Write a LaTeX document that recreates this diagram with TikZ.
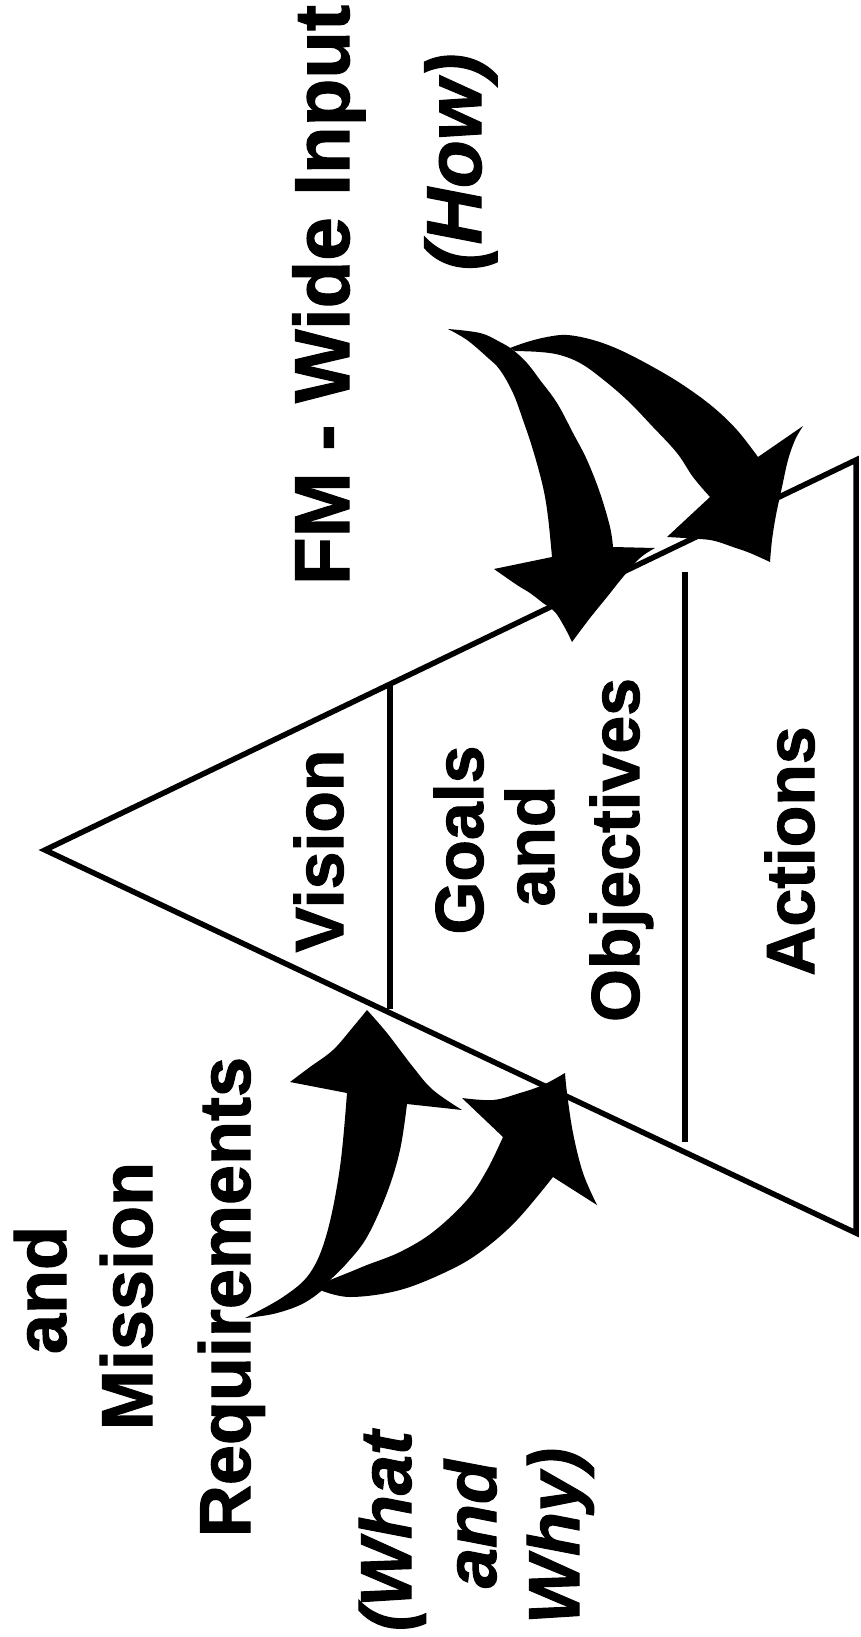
\documentclass[tikz,border=0pt]{standalone}
\usepackage{fontspec}
\setmainfont{Liberation Sans}[BoldFeatures={FakeBold=1.5}, BoldItalicFeatures={FakeBold=1.5}]
\begin{document}
\begin{tikzpicture}[x=1pt,y=-1pt,
  edgeline/.style={line width=5.5pt, line join=miter},
  divider/.style={line width=5.5pt},
  txt/.style={rotate=90, anchor=base, inner sep=0pt,
    font=\fontsize{72}{80}\selectfont\bfseries},
  itxt/.style={txt, font=\fontsize{72}{80}\selectfont\bfseries\itshape},
  tiertxt/.style={txt, font=\fontsize{68}{76}\selectfont\bfseries},
  bigtxt/.style={txt, font=\fontsize{78}{86}\selectfont\bfseries},
  bigitxt/.style={txt, font=\fontsize{78}{86}\selectfont\bfseries\itshape},
  swoosh/.style={fill=black}]
\useasboundingbox (0,0) rectangle (860,1637);

% pyramid outline
\coordinate (apex) at (45,850);
\coordinate (tr) at (856,460);
\coordinate (br) at (856,1233);
\draw[edgeline] (apex) -- (tr) -- (br) -- cycle;

% tier dividers
\coordinate (v1) at (390,684);
\coordinate (v2) at (390,1009);
\coordinate (a1) at (685,572);
\coordinate (a2) at (685,1142);
\draw[divider] (v1) -- (v2);
\draw[divider] (a1) -- (a2);

% curved arrows coming down from the top
\fill[swoosh] plot[smooth, tension=0.6] coordinates {(448,329) (480,333) (500,342) (513,350) (527,363) (540,380) (557,403) (573,433) (587,460) (600,493) (610,527) (613,547)}
  -- (655,548)
  -- plot[smooth, tension=0.6] coordinates {(655,548) (640,558) (623,577) (607,597) (590,618) (572,642)}
  -- plot[smooth, tension=0.6] coordinates {(572,642) (565,628) (555,612) (543,603) (530,593) (517,585) (494,569)}
  -- (552,557)
  -- plot[smooth, tension=0.6] coordinates {(552,557) (548,517) (543,487) (533,450) (523,420) (513,393) (500,370) (487,357) (467,340) (448,329)}
  -- cycle;

\fill[swoosh] plot[smooth, tension=0.6] coordinates {(510,348) (527,342) (547,337) (567,335) (593,340) (620,350) (653,367) (683,385) (713,407) (737,430) (758,457)}
  -- (803,426)
  -- plot[smooth, tension=0.6] coordinates {(803,426) (795,440) (788,460) (782,487) (776,515) (772,540) (770,562)}
  -- plot[smooth, tension=0.6] coordinates {(770,562) (750,553) (733,547) (715,541) (700,539) (667,537)}
  -- (710,497)
  -- plot[smooth, tension=0.6] coordinates {(710,497) (693,477) (677,453) (653,427) (627,400) (600,377) (580,363) (560,355) (540,352) (515,351)}
  -- cycle;

% curved arrows rising from below
\fill[swoosh] plot[smooth, tension=0.6] coordinates {(245,1318) (283,1297) (310,1273) (327,1233) (340,1167) (347,1093)}
  -- (290,1082)
  -- plot[smooth, tension=0.6] coordinates {(290,1082) (310,1067) (333,1050) (353,1027) (367,1010)}
  -- plot[smooth, tension=0.6] coordinates {(367,1010) (387,1033) (413,1067) (433,1090) (462,1110)}
  -- (407,1104)
  -- plot[smooth, tension=0.6] coordinates {(407,1104) (400,1150) (387,1193) (367,1237) (347,1263) (330,1280)}
  -- plot[smooth, tension=0.6] coordinates {(330,1280) (320,1292) (300,1305) (273,1314) (245,1318)}
  -- cycle;

\fill[swoosh] plot[smooth, tension=0.6] coordinates {(330,1280) (350,1272) (367,1265) (400,1252) (433,1232) (467,1200) (487,1170) (503,1137)}
  -- (462,1098)
  -- plot[smooth, tension=0.6] coordinates {(462,1098) (493,1100) (520,1093) (543,1085) (565,1073)}
  -- plot[smooth, tension=0.6] coordinates {(565,1073) (567,1093) (573,1133) (583,1173) (597,1205)}
  -- (553,1177)
  -- plot[smooth, tension=0.6] coordinates {(553,1177) (517,1220) (483,1250) (450,1270) (400,1290) (350,1297) (320,1290)}
  -- cycle;

% labels inside the pyramid
\node[tiertxt] (vision) at (343,851) {Vision};
\node[tiertxt] (goals) at (483,840) {Goals};
\node[tiertxt] (gand) at (554,846) {and};
\node[tiertxt] (objectives) at (639,850) {Objectives};
\node[tiertxt] (actions) at (814,851) {Actions};

% input from above
\node[bigtxt] (fmwide) at (349,295) {FM - Wide Input};
\node[bigitxt] (how) at (481,162) {(How)};

% input from below
\node[txt] (land) at (66,1290) {and};
\node[txt] (mission) at (152,1296) {Mission};
\node[txt] (requirements) at (250,1297) {Requirements};
\node[itxt] (what) at (411,1531) {(What};
\node[itxt] (wand) at (496,1524) {and};
\node[itxt] (why) at (579,1536) {Why)};
\end{tikzpicture}
\end{document}
